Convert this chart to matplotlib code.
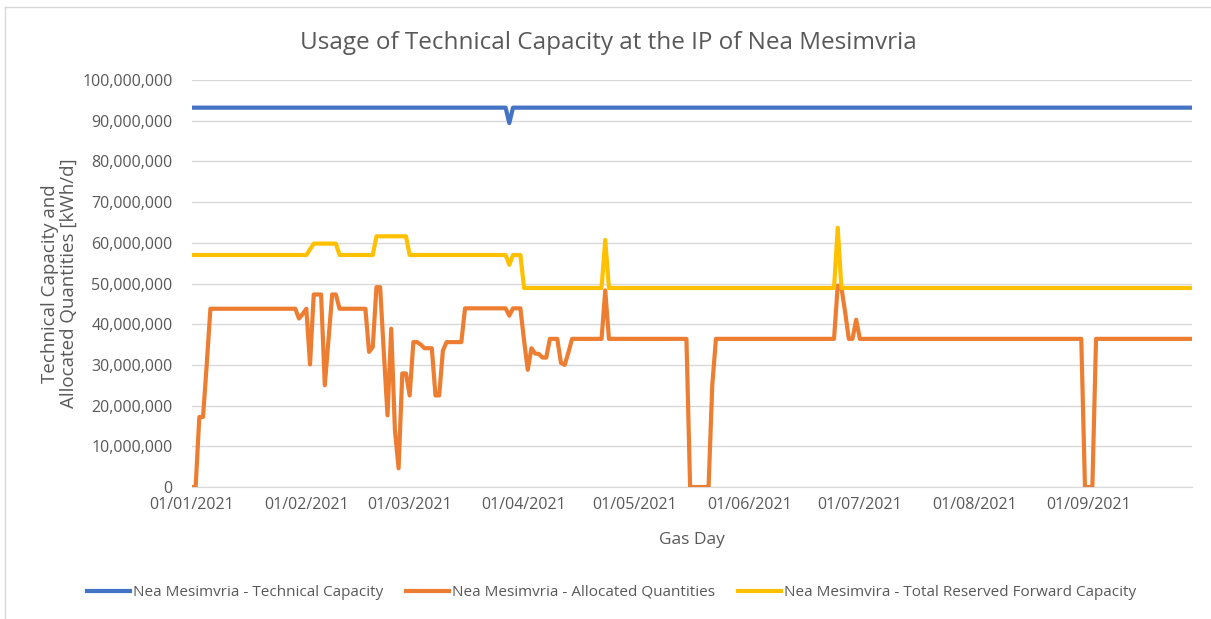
import numpy as np
import pandas as pd
import matplotlib
matplotlib.use('Agg')
import matplotlib.pyplot as plt
import matplotlib.dates as mdates
from matplotlib.ticker import FuncFormatter, MultipleLocator
from matplotlib.lines import Line2D

plt.rcParams['font.family'] = ['Open Sans', 'DejaVu Sans']

days = pd.date_range('2021-01-01', '2021-09-29', freq='D')

# values in million kWh/d: (day index, value) change points,
# each value holds until the next change point
tech_pts = [(0, 93.2), (86, 89.4), (87, 93.2)]

reserved_pts = [(0, 57.0), (32, 58.4), (33, 59.8), (40, 57.0), (50, 61.6), (59, 57.0),
                (86, 54.6), (87, 57.0), (90, 48.9), (112, 60.7), (113, 48.9),
                (175, 63.7), (176, 48.9)]

alloc_pts = [(0, 0.0), (2, 17.2), (4, 30.0), (5, 43.8), (29, 41.4), (30, 42.5), (31, 43.8),
             (32, 30.1), (33, 47.3), (36, 25.0), (37, 36.0), (38, 47.3), (40, 43.8),
             (48, 33.2), (49, 34.4), (50, 49.1), (52, 33.0), (53, 17.6), (54, 38.9),
             (55, 14.0), (56, 4.6), (57, 27.9), (59, 22.5), (60, 35.6), (62, 35.0),
             (63, 34.1), (66, 22.5), (68, 33.5), (69, 35.6), (74, 43.9), (86, 42.1),
             (87, 43.9), (90, 36.0), (91, 28.8), (92, 34.1), (93, 32.8), (94, 32.7),
             (95, 31.8), (97, 36.4), (100, 30.5), (101, 30.0), (102, 33.0), (103, 36.4),
             (112, 48.3), (113, 36.4), (135, 0.0), (141, 25.0), (142, 36.4),
             (175, 49.5), (176, 49.0), (177, 43.0), (178, 36.4), (180, 41.1), (181, 36.4),
             (242, 0.0), (245, 36.4)]


def expand(pts):
    vals = np.zeros(len(days))
    for i, (start, v) in enumerate(pts):
        end = pts[i + 1][0] if i + 1 < len(pts) else len(days)
        vals[start:end] = v
    return vals * 1e6


technical = expand(tech_pts)
reserved = expand(reserved_pts)
allocated = expand(alloc_pts)

labels = ['Nea Mesimvria - Technical Capacity', 'Nea Mesimvria - Allocated Quantities',
          'Nea Mesimvira - Total Reserved Forward Capacity']
colors = ['#4472C4', '#ED7D31', '#FFC000']
txt = '#595959'

fig = plt.figure(figsize=(12.11, 6.19), dpi=100)
ax = fig.add_axes([0.1585, 0.2132, 0.8258, 0.6576])

ax.plot(days, technical, color=colors[0], lw=3, solid_joinstyle='round', zorder=3)
ax.plot(days, allocated, color=colors[1], lw=3, solid_joinstyle='round', zorder=3)
ax.plot(days, reserved, color=colors[2], lw=3, solid_joinstyle='round', zorder=3)

ax.set_ylim(0, 100e6)
ax.set_xlim(days[0], days[-1])
ax.yaxis.set_major_locator(MultipleLocator(10e6))
ax.yaxis.set_major_formatter(FuncFormatter(lambda v, p: f'{v:,.0f}'))
ax.xaxis.set_major_locator(mdates.MonthLocator())
ax.xaxis.set_major_formatter(mdates.DateFormatter('%d/%m/%Y'))
ax.grid(axis='y', color='#D9D9D9', lw=1)
ax.set_axisbelow(True)
for s in ['top', 'right', 'left']:
    ax.spines[s].set_visible(False)
ax.spines['bottom'].set_color('#D9D9D9')
ax.tick_params(length=0, colors=txt, labelsize=11.5)
ax.tick_params(axis='y', pad=14)
ax.tick_params(axis='x', pad=7)

ax.set_xlabel('Gas Day', color=txt, fontsize=12.5, labelpad=14)
ax.set_ylabel('Technical Capacity and\nAllocated Quantities [kWh/d]', color=txt,
              fontsize=13.5, labelpad=3, linespacing=1.1)
fig.text(0.502, 0.930, 'Usage of Technical Capacity at the IP of Nea Mesimvria',
         ha='center', va='center', color=txt, fontsize=17.5)

handles = [Line2D([], [], color=c, lw=3) for c in colors]
fig.legend(handles, labels, loc='center', bbox_to_anchor=(0.505, 0.043), ncol=3,
           frameon=False, fontsize=11.0, labelcolor=txt, handlelength=2.8,
           handletextpad=0.2, columnspacing=1.5)

# chart frame (only left and top edges visible in the crop)
fig.add_artist(Line2D([0.004, 0.004], [0.0, 0.989], color='#D9D9D9', lw=1))
fig.add_artist(Line2D([0.004, 1.0], [0.989, 0.989], color='#D9D9D9', lw=1))

plt.savefig('out.png', dpi=100)
